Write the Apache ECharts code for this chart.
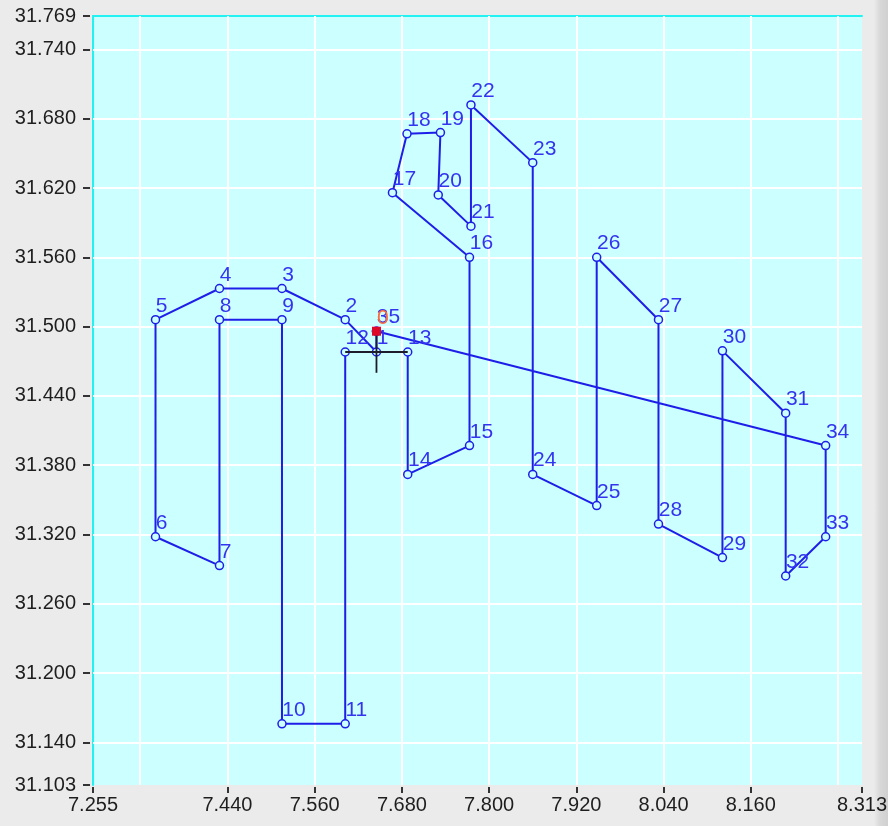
<!DOCTYPE html>
<html>
<head>
<meta charset="utf-8">
<script src="https://cdn.jsdelivr.net/npm/echarts@6/dist/echarts.min.js"></script>
<style>
  html, body { margin: 0; padding: 0; }
  body { width: 888px; height: 826px; background: linear-gradient(to right, #ebebeb 0, #ebebeb 874px, #d8d8d8 880px, #d0d0d0 888px); }
  #chart { width: 888px; height: 826px; }
</style>
</head>
<body>
<div id="chart"></div>
<script>
// Point coordinates (index = point number; 35 closes the loop back at 0)
const xs = [7.645, 7.645, 7.602, 7.515, 7.429, 7.341, 7.341, 7.429, 7.429, 7.515,
            7.515, 7.602, 7.602, 7.688, 7.688, 7.773, 7.773, 7.667, 7.687, 7.733,
            7.730, 7.775, 7.775, 7.860, 7.860, 7.948, 7.948, 8.033, 8.033, 8.121,
            8.121, 8.208, 8.208, 8.263, 8.263, 7.645];
const ys = [31.496, 31.478, 31.506, 31.533, 31.533, 31.506, 31.318, 31.293, 31.506, 31.506,
            31.156, 31.156, 31.478, 31.478, 31.372, 31.397, 31.560, 31.616, 31.667, 31.668,
            31.614, 31.587, 31.692, 31.642, 31.372, 31.345, 31.560, 31.506, 31.329, 31.300,
            31.479, 31.425, 31.284, 31.318, 31.397, 31.496];

// Axis ranges, tick labels and grid lines
const xMin = 7.255, xMax = 8.313;
const yMin = 31.103, yMax = 31.769;
const xTicks = [7.255, 7.44, 7.56, 7.68, 7.80, 7.92, 8.04, 8.16, 8.313];
const yTicks = [31.103, 31.14, 31.20, 31.26, 31.32, 31.38, 31.44, 31.50, 31.56, 31.62, 31.68, 31.74, 31.769];
const xGrid = [7.32, 7.44, 7.56, 7.68, 7.80, 7.92, 8.04, 8.16, 8.28];
const yGrid = [31.14, 31.20, 31.26, 31.32, 31.38, 31.44, 31.50, 31.56, 31.62, 31.68, 31.74];

// cursor point index (crosshair) and its neighbours
const cursorIdx = 1, cursorLeft = 12, cursorRight = 13, startIdx = 0;

const BLUE = '#1e1ee8';
const LABEL_BLUE = '#3434f0';
const FONT = 'Arial, "Liberation Sans", sans-serif';

const pathData = xs.map((x, i) => ({ value: [x, ys[i]] }));

const dy = ys[startIdx] - ys[cursorIdx];
const crossH = [[xs[cursorLeft], ys[cursorIdx]], [xs[cursorRight], ys[cursorIdx]]];
const crossV = [[xs[cursorIdx], ys[startIdx]], [xs[cursorIdx], ys[cursorIdx] - dy]];
const startPoint = [[xs[startIdx], ys[startIdx]]];

const chart = echarts.init(document.getElementById('chart'), null, { renderer: 'canvas' });

const tickLabelStyle = { fontSize: 20, color: '#1e1e1e', fontFamily: FONT, formatter: v => Number(v).toFixed(3) };

chart.setOption({
  animation: false,
  backgroundColor: 'transparent',
  grid: {
    left: 93, right: 26, top: 16, bottom: 41,
    show: true, backgroundColor: '#ccffff', borderWidth: 0,
    outerBoundsMode: 'none'
  },
  xAxis: [
    {
      type: 'value', min: xMin, max: xMax, position: 'bottom', offset: 2,
      axisLine: { show: false },
      axisTick: { show: true, length: 6, customValues: xTicks, lineStyle: { color: '#333', width: 2 } },
      axisLabel: Object.assign({ margin: 8, customValues: xTicks }, tickLabelStyle),
      splitLine: { show: false }
    },
    {
      type: 'value', min: xMin, max: xMax, position: 'top', offset: 0,
      axisLine: { show: true, lineStyle: { color: '#22f2f2', width: 2 } },
      axisTick: { show: false }, axisLabel: { show: false }, splitLine: { show: false }
    }
  ],
  yAxis: [
    {
      type: 'value', min: yMin, max: yMax, position: 'left', offset: 3,
      axisLine: { show: false },
      axisTick: { show: true, length: 7, customValues: yTicks, lineStyle: { color: '#333', width: 2 } },
      axisLabel: Object.assign({ margin: 14, customValues: yTicks }, tickLabelStyle),
      splitLine: { show: false }
    },
    {
      type: 'value', min: yMin, max: yMax, position: 'left', offset: 0,
      axisLine: { show: true, lineStyle: { color: '#22f2f2', width: 2 } },
      axisTick: { show: false }, axisLabel: { show: false }, splitLine: { show: false }
    }
  ],
  series: [
    {
      type: 'line', xAxisIndex: 0, yAxisIndex: 0, z: 1,
      data: [[xs[0], ys[0]]], showSymbol: false, lineStyle: { opacity: 0 }, silent: true,
      markLine: {
        z: 1,
        silent: true, symbol: ['none', 'none'], label: { show: false },
        lineStyle: { color: '#ffffff', width: 2, type: 'solid' },
        emphasis: { disabled: true },
        data: xGrid.map(v => ({ xAxis: v })).concat(yGrid.map(v => ({ yAxis: v })))
      }
    },
    {
      type: 'line', xAxisIndex: 0, yAxisIndex: 0, z: 6,
      data: pathData,
      symbol: 'circle', symbolSize: 8, showAllSymbol: true,
      lineStyle: { color: BLUE, width: 2 },
      itemStyle: { color: '#ccffff', borderColor: BLUE, borderWidth: 1.5 },
      label: {
        show: true, position: [5, -9], align: 'left', verticalAlign: 'middle',
        fontSize: 21, fontFamily: FONT, color: LABEL_BLUE,
        formatter: p => p.dataIndex === startIdx ? '' : String(p.dataIndex)
      },
      labelLayout: { hideOverlap: false },
      emphasis: { disabled: true }
    },
    {
      type: 'line', xAxisIndex: 0, yAxisIndex: 0, z: 7,
      data: crossH, showSymbol: false, symbol: 'none',
      lineStyle: { color: '#1c1c2a', width: 1.8 }, silent: true
    },
    {
      type: 'line', xAxisIndex: 0, yAxisIndex: 0, z: 7,
      data: crossV, showSymbol: false, symbol: 'none',
      lineStyle: { color: '#1c1c2a', width: 1.8 }, silent: true
    },
    {
      type: 'scatter', xAxisIndex: 0, yAxisIndex: 0, z: 8,
      data: startPoint, symbol: 'rect', symbolSize: 9,
      itemStyle: { color: '#dc0a28', opacity: 1 },
      label: {
        show: true, position: [5, -9], align: 'left', verticalAlign: 'middle',
        fontSize: 21, fontFamily: FONT, color: '#ff6a3a',
        formatter: () => String(startIdx)
      },
      silent: true, emphasis: { disabled: true }
    }
  ]
});
</script>
</body>
</html>
